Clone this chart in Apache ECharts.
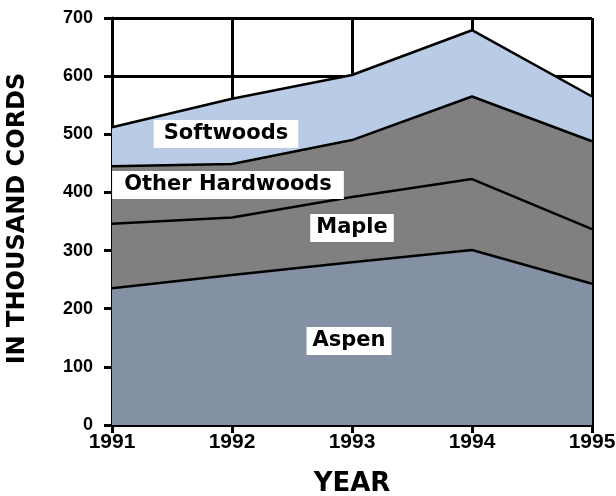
<!DOCTYPE html>
<html>
<head>
<meta charset="utf-8">
<script src="https://cdn.jsdelivr.net/npm/echarts@6/dist/echarts.min.js"></script>
<style>
  html, body { margin: 0; padding: 0; background: #fff; }
  #chart { width: 616px; height: 496px; }
</style>
</head>
<body>
<div id="chart"></div>
<script>
// years on the x axis
var years = ['1991', '1992', '1993', '1994', '1995'];
// stacked values, thousand cords
var aspen = [235, 258, 280, 301, 243];
var maple = [111, 99, 112, 122, 94];
var otherHardwoods = [99, 92, 98, 142, 151];
var softwoods = [67, 112, 112, 114, 77];

var SANS = '"Liberation Sans", Arial, Helvetica, sans-serif';
var WIDE = '"DejaVu Sans", Verdana, sans-serif';

var chart = echarts.init(document.getElementById('chart'));

function areaSeries(name, data, color) {
  return {
    name: name,
    type: 'line',
    stack: 'total',
    data: data,
    showSymbol: false,
    symbol: 'none',
    lineStyle: { color: '#000', width: 2.5 },
    areaStyle: { color: color, opacity: 1 },
    z: 3
  };
}

// labels sitting on the areas (white boxes)
function boxLabel(text, x, y, padX) {
  return {
    type: 'text',
    x: x,
    y: y,
    z: 100,
    style: {
      text: text,
      fill: '#000',
      font: 'bold 21px ' + WIDE,
      align: 'center',
      verticalAlign: 'middle',
      backgroundColor: '#fff',
      padding: [4, padX, 3, padX]
    }
  };
}

var option = {
  animation: false,
  backgroundColor: '#fff',
  grid: { left: 112, right: 24, top: 18, bottom: 71, outerBoundsMode: 'none', containLabel: false },
  xAxis: {
    type: 'category',
    data: years,
    boundaryGap: false,
    name: 'YEAR',
    nameLocation: 'middle',
    nameGap: 46,
    nameTextStyle: { color: '#000', fontFamily: WIDE, fontWeight: 'bold', fontSize: 26 },
    axisLine: { show: true, lineStyle: { color: '#000', width: 3 } },
    axisTick: { show: true, length: 8, lineStyle: { color: '#000', width: 3 } },
    axisLabel: { color: '#000', fontFamily: SANS, fontWeight: 'bold', fontSize: 21, margin: 7 },
    splitLine: { show: true, lineStyle: { color: '#000', width: 3 } }
  },
  yAxis: {
    type: 'value',
    min: 0,
    max: 700,
    interval: 100,
    name: 'IN THOUSAND CORDS',
    nameLocation: 'middle',
    nameGap: 82,
    nameTextStyle: { color: '#000', fontFamily: WIDE, fontWeight: 'bold', fontSize: 24, padding: [0, 0, 0, 6] },
    axisLine: { show: true, lineStyle: { color: '#000', width: 3 } },
    axisTick: { show: true, length: 8, lineStyle: { color: '#000', width: 3 } },
    axisLabel: { color: '#000', fontFamily: SANS, fontWeight: 'bold', fontSize: 18, margin: 19 },
    splitLine: { show: true, lineStyle: { color: '#000', width: 3 } }
  },
  series: [
    areaSeries('Aspen', aspen, '#8491a5'),
    areaSeries('Maple', maple, '#808080'),
    areaSeries('Other Hardwoods', otherHardwoods, '#808080'),
    areaSeries('Softwoods', softwoods, '#bacbe5')
  ],
  graphic: [
    boxLabel('Softwoods', 226, 134, 10),
    boxLabel('Other Hardwoods', 228, 185, 12),
    boxLabel('Maple', 352, 228, 6),
    boxLabel('Aspen', 349, 341, 6)
  ]
};

chart.setOption(option);
</script>
</body>
</html>
